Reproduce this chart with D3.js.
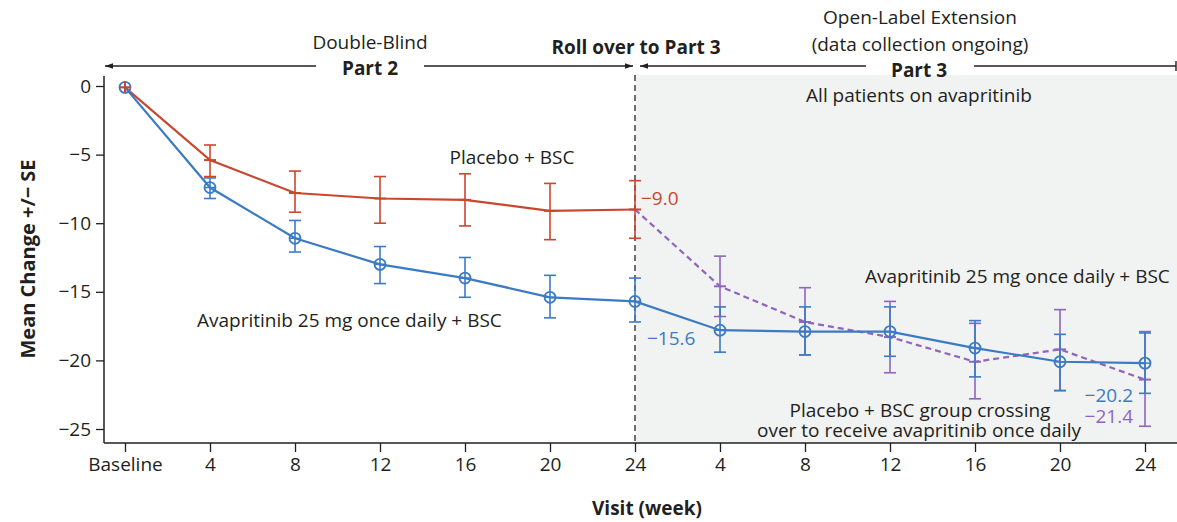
<!DOCTYPE html>
<html>
<head>
<meta charset="utf-8">
<script src="https://cdn.jsdelivr.net/npm/d3@7"></script>
<style>
  body { margin: 0; background: #fff; }
  text { font-family: "Open Sans", "Noto Sans", sans-serif; fill: #231f20; }
</style>
</head>
<body>
<div id="chart"></div>
<script>
// visits: 0..6 = part 2 (baseline..wk24), 7..12 = part 3 (wk4..wk24)
var visitLabels = ["Baseline","4","8","12","16","20","24","4","8","12","16","20","24"];
var yTicks = [0, -5, -10, -15, -20, -25];

// avapritinib 25 mg + BSC, all visits
var avapMean = [-0.1, -7.4, -11.1, -13.0, -14.0, -15.4, -15.7, -17.8, -17.9, -17.9, -19.1, -20.1, -20.2];
var avapHi   = [null, -6.7, -9.8, -11.7, -12.5, -13.8, -14.0, -16.1, -16.1, -16.1, -17.1, -18.1, -18.0];
var avapLo   = [null, -8.2, -12.1, -14.4, -15.4, -16.9, -17.2, -19.4, -19.6, -19.7, -21.2, -22.2, -22.4];

// placebo + BSC, part 2 only
var placeboMean = [-0.1, -5.4, -7.8, -8.2, -8.3, -9.1, -9.0];
var placeboHi   = [null, -4.3, -6.2, -6.6, -6.4, -7.1, -6.9];
var placeboLo   = [null, -6.6, -9.2, -10.0, -10.2, -11.2, -11.1];

// placebo group crossing over, visits 6..12
var crossMean = [-9.0, -14.6, -17.2, -18.3, -20.1, -19.2, -21.4];
var crossHi   = [null, -12.4, -14.7, -15.7, -17.3, -16.3, -17.9];
var crossLo   = [null, -16.8, -19.6, -20.9, -22.8, -22.2, -24.8];

var red = "#c9472f", blue = "#3b7bc4", purple = "#9065be";

var W = 1177, H = 522;
var svg = d3.select("#chart").append("svg")
  .attr("width", W).attr("height", H);

var x = d3.scaleLinear().domain([0, 12]).range([125, 1145]);
var y = d3.scaleLinear().domain([0, -25]).range([86, 429]);
var axisLeft = 104, axisBottom = 443, plotTop = 75;

// shaded open-label region
svg.append("rect")
  .attr("x", x(6) + 1).attr("y", plotTop)
  .attr("width", W - x(6) - 1).attr("height", axisBottom - plotTop)
  .attr("fill", "#f1f2f2");

// dashed divider
svg.append("line")
  .attr("x1", x(6)).attr("x2", x(6))
  .attr("y1", plotTop).attr("y2", axisBottom)
  .attr("stroke", "#231f20").attr("stroke-width", 1.3)
  .attr("stroke-dasharray", "6,4");

// axes
var yAxis = d3.axisLeft(y).tickValues(yTicks).tickSize(8).tickPadding(5)
  .tickFormat(function(d){ return d === 0 ? "0" : "\u2212" + Math.abs(d); });
var gy = svg.append("g").attr("transform", "translate(" + axisLeft + ",0)").call(yAxis);
gy.select(".domain").remove();
gy.append("line").attr("x1", 0).attr("x2", 0).attr("y1", 76).attr("y2", axisBottom)
  .attr("stroke", "#231f20").attr("stroke-width", 1.5);

var xAxis = d3.axisBottom(x).tickValues(d3.range(13)).tickSize(9).tickPadding(6)
  .tickFormat(function(i){ return visitLabels[i]; });
var gx = svg.append("g").attr("transform", "translate(0," + axisBottom + ")").call(xAxis);
gx.select(".domain").remove();
gx.append("line").attr("x1", axisLeft).attr("x2", W).attr("y1", 0).attr("y2", 0)
  .attr("stroke", "#231f20").attr("stroke-width", 1.5);

svg.selectAll(".tick line").attr("stroke", "#231f20").attr("stroke-width", 1.3);
svg.selectAll(".tick text").style("font-size", "19px").attr("fill", "#231f20")
  .style("font-family", "'Open Sans', sans-serif");

// axis titles
svg.append("text")
  .attr("transform", "translate(35,259) rotate(-90)")
  .attr("text-anchor", "middle").style("font-size", "20px").style("font-weight", "bold")
  .text("Mean Change +/\u2212 SE");
svg.append("text")
  .attr("x", 647).attr("y", 508).attr("text-anchor", "middle")
  .attr("dominant-baseline", "central")
  .style("font-size", "19px").style("font-weight", "bold")
  .text("Visit (week)");

// error bars helper
function errorBars(mean, hi, lo, offset, color) {
  var data = mean.map(function(m, i){ return {i: i + offset, hi: hi[i], lo: lo[i]}; })
    .filter(function(d){ return d.hi !== null; });
  var g = svg.append("g").attr("stroke", color).attr("stroke-width", 1.6).attr("fill", "none");
  g.selectAll(".v").data(data).enter().append("line")
    .attr("x1", function(d){ return x(d.i); }).attr("x2", function(d){ return x(d.i); })
    .attr("y1", function(d){ return y(d.hi); }).attr("y2", function(d){ return y(d.lo); });
  g.selectAll(".t").data(data).enter().append("line")
    .attr("x1", function(d){ return x(d.i) - 6; }).attr("x2", function(d){ return x(d.i) + 6; })
    .attr("y1", function(d){ return y(d.hi); }).attr("y2", function(d){ return y(d.hi); });
  g.selectAll(".b").data(data).enter().append("line")
    .attr("x1", function(d){ return x(d.i) - 6; }).attr("x2", function(d){ return x(d.i) + 6; })
    .attr("y1", function(d){ return y(d.lo); }).attr("y2", function(d){ return y(d.lo); });
}

var line = d3.line().x(function(d){ return x(d.i); }).y(function(d){ return y(d.v); });
function pts(arr, offset) { return arr.map(function(v, i){ return {i: i + offset, v: v}; }); }

// crossover (dashed purple)
errorBars(crossMean, crossHi, crossLo, 6, purple);
svg.append("path").datum(pts(crossMean, 6)).attr("d", line)
  .attr("fill", "none").attr("stroke", purple).attr("stroke-width", 2.2)
  .attr("stroke-dasharray", "6,4");
svg.append("g").selectAll("line").data(pts(crossMean, 6).slice(1)).enter().append("line")
  .attr("x1", function(d){ return x(d.i) - 6; }).attr("x2", function(d){ return x(d.i) + 6; })
  .attr("y1", function(d){ return y(d.v); }).attr("y2", function(d){ return y(d.v); })
  .attr("stroke", purple).attr("stroke-width", 2);

// placebo (red)
errorBars(placeboMean, placeboHi, placeboLo, 0, red);
svg.append("path").datum(pts(placeboMean, 0)).attr("d", line)
  .attr("fill", "none").attr("stroke", red).attr("stroke-width", 2.2);
svg.append("g").selectAll("line").data(pts(placeboMean, 0).slice(1)).enter().append("line")
  .attr("x1", function(d){ return x(d.i) - 6; }).attr("x2", function(d){ return x(d.i) + 6; })
  .attr("y1", function(d){ return y(d.v); }).attr("y2", function(d){ return y(d.v); })
  .attr("stroke", red).attr("stroke-width", 2);

// avapritinib (blue)
errorBars(avapMean, avapHi, avapLo, 0, blue);
svg.append("path").datum(pts(avapMean, 0)).attr("d", line)
  .attr("fill", "none").attr("stroke", blue).attr("stroke-width", 2.2);
svg.append("g").selectAll("circle").data(pts(avapMean, 0)).enter().append("circle")
  .attr("cx", function(d){ return x(d.i); }).attr("cy", function(d){ return y(d.v); })
  .attr("r", 5.5).attr("fill", "none").attr("stroke", blue).attr("stroke-width", 1.8);
svg.append("g").selectAll("line").data(pts(avapMean, 0)).enter().append("line")
  .attr("x1", function(d){ return x(d.i) - 5.5; }).attr("x2", function(d){ return x(d.i) + 5.5; })
  .attr("y1", function(d){ return y(d.v); }).attr("y2", function(d){ return y(d.v); })
  .attr("stroke", blue).attr("stroke-width", 1.5);

// baseline red plus
svg.append("line").attr("x1", x(0)).attr("x2", x(0))
  .attr("y1", y(placeboMean[0]) - 6).attr("y2", y(placeboMean[0]) + 6)
  .attr("stroke", red).attr("stroke-width", 2);
svg.append("line").attr("x1", x(0) - 6).attr("x2", x(0) + 6)
  .attr("y1", y(placeboMean[0])).attr("y2", y(placeboMean[0]))
  .attr("stroke", red).attr("stroke-width", 2);

// text helper
function label(t, px, py, anchor, color, size, bold) {
  var tx = svg.append("text").attr("x", px).attr("y", py).attr("text-anchor", anchor)
    .attr("dominant-baseline", "central")
    .style("font-size", (size || 19) + "px").style("fill", color || "#231f20").text(t);
  if (bold) tx.style("font-weight", "bold");
}
// value labels
label("\u22129.0", x(6) + 6, y(placeboMean[6]) - 11, "start", red);
label("\u221215.6", x(6) + 12, y(avapMean[6]) + 37, "start", blue);
label("\u221220.2", x(12) - 12, y(avapMean[12]) + 32, "end", blue);
label("\u221221.4", x(12) - 12, y(avapMean[12]) + 53, "end", purple);

// series labels
label("Placebo + BSC", 512, 157, "middle");
label("Avapritinib 25 mg once daily + BSC", 197, 320, "start");
label("Avapritinib 25 mg once daily + BSC", 865, 276, "start");
label("Placebo + BSC group crossing", 920, 410, "middle");
label("over to receive avapritinib once daily", 919, 430, "middle");
label("All patients on avapritinib", 919, 95, "middle");

// header annotations
label("Double-Blind", 370, 42, "middle");
label("Open-Label Extension", 920, 17, "middle");
label("(data collection ongoing)", 920, 44, "middle");
label("Roll over to Part 3", 636, 47, "middle", null, 19, true);
label("Part 2", 370, 68, "middle", null, 19, true);
label("Part 3", 919, 70, "middle", null, 19, true);

var defs = svg.append("defs");
defs.append("marker").attr("id", "arr").attr("viewBox", "0 0 10 10")
  .attr("refX", 10).attr("refY", 5).attr("markerWidth", 10).attr("markerHeight", 8)
  .attr("markerUnits", "userSpaceOnUse").attr("orient", "auto")
  .append("path").attr("d", "M0,1.5 L10,5 L0,8.5 Z").attr("fill", "#231f20");

function arrowLine(x1, x2, yy, marker) {
  var l = svg.append("line").attr("x1", x1).attr("x2", x2).attr("y1", yy).attr("y2", yy)
    .attr("stroke", "#231f20").attr("stroke-width", 1.4);
  if (marker) l.attr("marker-end", "url(#arr)");
}
arrowLine(316, 105, 66, true);
arrowLine(424, 633, 66, true);
arrowLine(866, 640, 66, true);
arrowLine(974, 1176, 66, false);
svg.append("line").attr("x1", 1176).attr("x2", 1176).attr("y1", 61).attr("y2", 71)
  .attr("stroke", "#231f20").attr("stroke-width", 1.4);
</script>
</body>
</html>
